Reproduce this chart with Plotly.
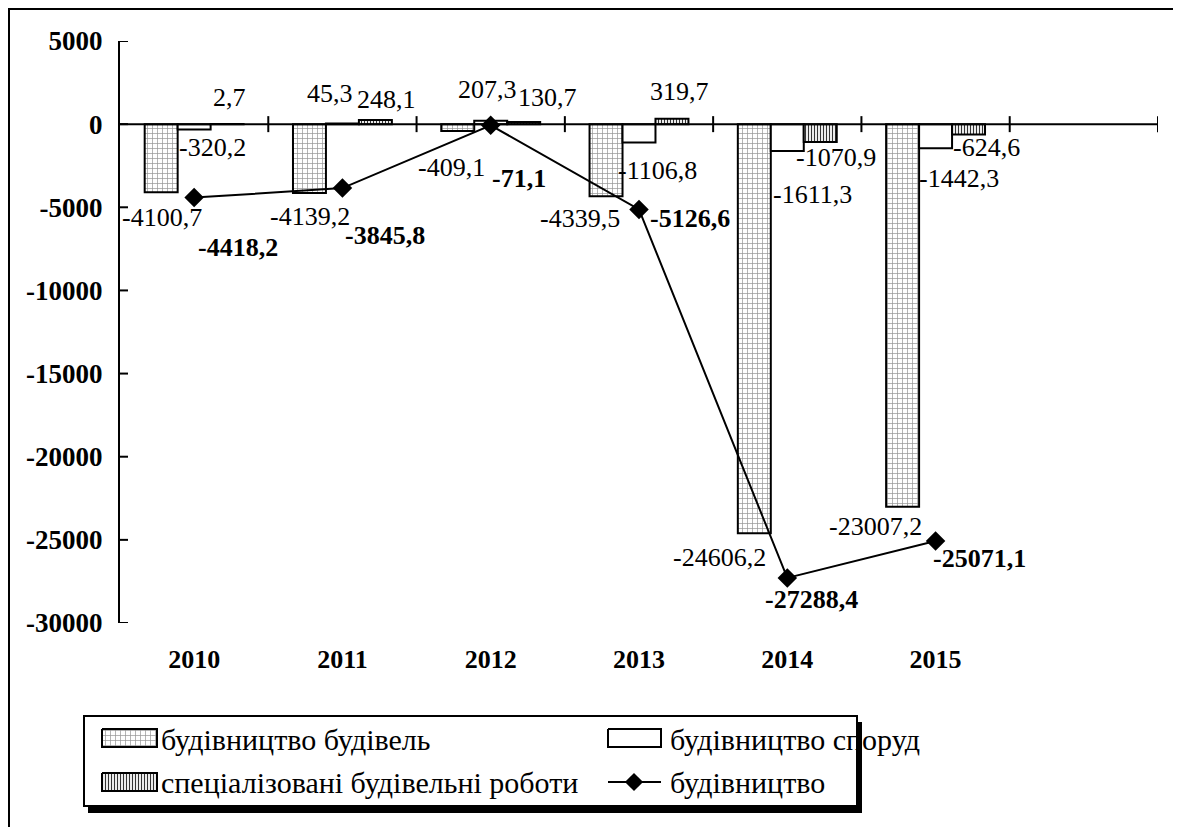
import plotly.graph_objects as go

# ---------------- data ----------------
years = ["2010", "2011", "2012", "2013", "2014", "2015"]
buildings = [-4100.7, -4139.2, -409.1, -4339.5, -24606.2, -23007.2]      # будівництво будівель
structures = [-320.2, 45.3, 207.3, -1106.8, -1611.3, -1442.3]            # будівництво споруд
specialized = [2.7, 248.1, 130.7, 319.7, -1070.9, -624.6]                # спеціалізовані будівельні роботи
construction = [-4418.2, -3845.8, -71.1, -5126.6, -27288.4, -25071.1]    # будівництво
y_ticks = [5000, 0, -5000, -10000, -15000, -20000, -25000, -30000]

names = ["будівництво будівель", "будівництво споруд",
         "спеціалізовані будівельні роботи", "будівництво"]

# ---------------- styling / layout constants ----------------
W, H = 1181, 827
OFF = 8          # page body margin: the figure div starts 8px right / down in the page
FONT = "Liberation Serif, Times New Roman, serif"
BARGAP = 0.333
xpos = list(range(len(years)))


def fx(p):       # page pixel x -> paper fraction
    return (p - OFF) / W


def fy(p):       # page pixel y -> paper fraction
    return 1 - (p - OFF) / H


# label offsets (pixels) relative to the anchor point of each value
off_b1 = [(1, -25), (1, -24), (-6, -37), (-26, -22), (-35, -24), (-27, -20)]
off_b2 = [(18, -18), (-12, 30), (-3, 31), (18, -28), (25, -44), (23, -30)]
off_b3 = [(2, 27), (11, 21), (24, 24), (8, 27), (16, -16), (18, -13)]
off_ln = [(44, -50), (43, -47), (28, -53), (51, -9), (24, -22), (44, -17)]


def fmt(v):
    return f"{v:.1f}".replace(".", ",")


fig = go.Figure()

pat1 = dict(shape="+", size=5, fgcolor="#959595", solidity=0.26, bgcolor="white")
pat3 = dict(shape="|", size=3, fgcolor="#333333", solidity=0.4, bgcolor="white")

fig.add_trace(go.Bar(x=xpos, y=buildings, name=names[0], showlegend=False,
                     marker=dict(color="white", line=dict(color="black", width=2), pattern=pat1)))
fig.add_trace(go.Bar(x=xpos, y=structures, name=names[1], showlegend=False,
                     marker=dict(color="white", line=dict(color="black", width=2))))
fig.add_trace(go.Bar(x=xpos, y=specialized, name=names[2], showlegend=False,
                     marker=dict(color="white", line=dict(color="black", width=2), pattern=pat3)))
fig.add_trace(go.Scatter(x=xpos, y=construction, name=names[3], showlegend=False,
                         mode="lines+markers", line=dict(color="black", width=2),
                         marker=dict(symbol="diamond", size=15, color="black")))

# ---------------- data labels ----------------
bw = (1 - BARGAP) / 3
ann = []
for series, offs, dx, bold in [(buildings, off_b1, -bw, False),
                               (structures, off_b2, 0, False),
                               (specialized, off_b3, bw, False),
                               (construction, off_ln, 0, True)]:
    for i, v in enumerate(series):
        ann.append(dict(x=i + dx, y=v, xref="x", yref="y", text=fmt(v), showarrow=False,
                        xanchor="center", yanchor="middle",
                        xshift=offs[i][0], yshift=offs[i][1],
                        font=dict(family=FONT, size=26, color="black",
                                  weight="bold" if bold else "normal")))

# ---------------- axes drawn as shapes (crossing ticks) ----------------
shapes = []
px_y = 35000 / 582.0   # data units per pixel on y
px_x = 1.0 / 148.29    # data units per pixel on x
shapes.append(dict(type="line", xref="x", yref="y", x0=-0.5, x1=6.5, y0=0, y1=0,
                   line=dict(color="black", width=2), layer="above"))
for k in range(7):
    xt = k + 0.5
    shapes.append(dict(type="line", xref="x", yref="y", x0=xt, x1=xt,
                       y0=-8 * px_y, y1=8 * px_y, line=dict(color="black", width=2)))
for t in y_ticks:
    shapes.append(dict(type="line", xref="x", yref="y", x0=-0.5 - 8 * px_x, x1=-0.5 + 8 * px_x,
                       y0=t, y1=t, line=dict(color="black", width=2)))

# outer frame (top and left edges visible)
shapes.append(dict(type="rect", xref="paper", yref="paper",
                   x0=fx(8.5), x1=1.05, y0=-0.05, y1=fy(8.5),
                   line=dict(color="black", width=3), fillcolor="rgba(0,0,0,0)", layer="below"))

# legend box with shadow
lx0, ly0, lx1, ly1 = 84, 716, 857, 806
shapes.append(dict(type="rect", xref="paper", yref="paper",
                   x0=fx(lx0 + 4), x1=fx(lx1 + 5), y0=fy(ly1 + 7), y1=fy(ly0 + 6),
                   line=dict(width=0), fillcolor="black", layer="below"))
shapes.append(dict(type="rect", xref="paper", yref="paper",
                   x0=fx(lx0), x1=fx(lx1), y0=fy(ly1), y1=fy(ly0),
                   line=dict(color="black", width=2), fillcolor="white", layer="below"))


def rect_xy(x0, y0, x1, y1):
    return [x0, x1, x1, x0, x0], [y0, y0, y1, y1, y0]


leg_items = [
    ((102, 729, 157, 747), pat1),
    ((102, 773, 157, 791), pat3),
    ((608, 729, 661, 747), None),
]
for (x0, y0, x1, y1), pat in leg_items:
    xs, ys = rect_xy(x0, y0, x1, y1)
    kw = dict(fillpattern=pat) if pat else {}
    fig.add_trace(go.Scatter(x=xs, y=ys, xaxis="x2", yaxis="y2", mode="lines", fill="toself",
                             fillcolor="white", line=dict(color="black", width=2),
                             showlegend=False, hoverinfo="skip", **kw))
fig.add_trace(go.Scatter(x=[608, 634, 661], y=[782, 782, 782], xaxis="x2", yaxis="y2",
                         mode="lines", line=dict(color="black", width=2),
                         showlegend=False, hoverinfo="skip"))
fig.add_trace(go.Scatter(x=[634], y=[782], xaxis="x2", yaxis="y2", mode="markers",
                         marker=dict(symbol="diamond", size=14, color="black"),
                         showlegend=False, hoverinfo="skip"))

leg_text = [(names[0], 159, 739), (names[2], 159, 782), (names[1], 668, 739), (names[3], 668, 782)]
for txt, x, y in leg_text:
    ann.append(dict(x=fx(x), y=fy(y), xref="paper", yref="paper", text=txt, showarrow=False,
                    xanchor="left", yanchor="middle",
                    font=dict(family=FONT, size=30, color="black")))

fig.update_layout(
    template="none",
    width=W, height=H, autosize=False,
    margin=dict(l=0, r=0, t=0, b=0, pad=0, autoexpand=False),
    paper_bgcolor="white", plot_bgcolor="rgba(0,0,0,0)",
    barmode="group", bargap=BARGAP, bargroupgap=0,
    showlegend=False, hovermode=False,
    xaxis=dict(domain=[fx(120), fx(1158)], range=[-0.5, 6.5], showgrid=False, zeroline=False,
               showline=False, ticks="", tickvals=xpos, ticktext=years, automargin=False,
               ticklabelstandoff=18,
               tickfont=dict(family=FONT, size=26, color="black", weight="bold"), anchor="y"),
    yaxis=dict(domain=[fy(623), fy(41)], range=[-30000, 5000], showgrid=False,
               zeroline=False, showline=True, linecolor="black", linewidth=2,
               ticks="outside", ticklen=10, tickcolor="rgba(0,0,0,0)",
               automargin=False,
               tickvals=y_ticks, ticktext=[str(t) for t in y_ticks],
               tickfont=dict(family=FONT, size=27, color="black", weight="bold"), anchor="x"),
    xaxis2=dict(domain=[0, 1], range=[OFF, W + OFF], visible=False, anchor="y2",
                fixedrange=True, automargin=False),
    yaxis2=dict(domain=[0, 1], range=[H + OFF, OFF], visible=False, anchor="x2",
                fixedrange=True, automargin=False),
    shapes=shapes,
    annotations=ann,
)

fig.write_html("out.html")
